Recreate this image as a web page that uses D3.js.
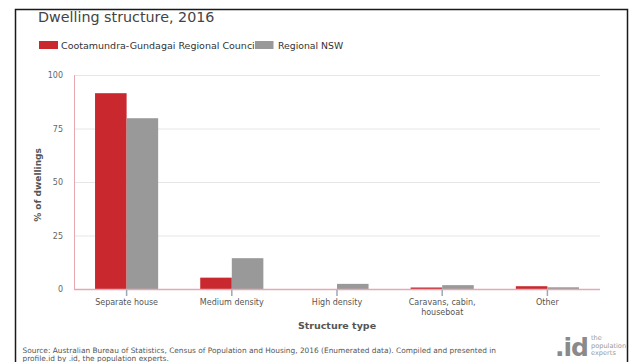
<!DOCTYPE html>
<html>
<head>
<meta charset="utf-8">
<script src="https://cdn.jsdelivr.net/npm/d3@7"></script>
<style>
  html, body { margin: 0; padding: 0; background: #fff; }
  svg { display: block; font-family: "DejaVu Sans", Verdana, sans-serif; }
</style>
</head>
<body>
<svg id="chart" width="632" height="362"></svg>
<script>
const categories = ["Separate house", "Medium density", "High density", "Caravans, cabin, houseboat", "Other"];
const categoryLines = [["Separate house"], ["Medium density"], ["High density"], ["Caravans, cabin,", "houseboat"], ["Other"]];
const seriesNames = ["Cootamundra-Gundagai Regional Council", "Regional NSW"];
const councilValues = [91.5, 5.3, 0.0, 0.7, 1.3];
const regionalValues = [79.8, 14.4, 2.4, 1.8, 0.8];
const yTicks = [0, 25, 50, 75, 100];
const colors = ["#c9282f", "#999999"];

const svg = d3.select("#chart");

// frame
svg.append("rect")
  .attr("x", 15.5).attr("y", 9.5)
  .attr("width", 612).attr("height", 400)
  .attr("fill", "none").attr("stroke", "#1a1a1a").attr("stroke-width", 1.5);

// title
svg.append("text")
  .attr("x", 38).attr("y", 22)
  .attr("font-size", 14.3).attr("fill", "#444")
  .text("Dwelling structure, 2016");

// legend
svg.append("rect").attr("x", 39).attr("y", 41).attr("width", 19).attr("height", 8).attr("fill", colors[0]);
svg.append("text").attr("x", 61).attr("y", 48.5).attr("font-size", 9.5).attr("fill", "#333").text(seriesNames[0]);
svg.append("rect").attr("x", 255).attr("y", 41).attr("width", 18.5).attr("height", 8).attr("fill", colors[1]);
svg.append("text").attr("x", 278).attr("y", 48.5).attr("font-size", 9.3).attr("fill", "#333").text(seriesNames[1]);

const pLeft = 74, pRight = 600, pTop = 75, pBottom = 289;

const x0 = d3.scaleBand().domain(categories).range([pLeft, pRight]).paddingInner(0.4).paddingOuter(0.2);
const x1 = d3.scaleBand().domain(seriesNames).range([0, x0.bandwidth()]);
const y = d3.scaleLinear().domain([0, 100]).range([pBottom, pTop]);

// gridlines
svg.append("g").selectAll("line").data(yTicks.filter(d => d > 0)).join("line")
  .attr("x1", pLeft).attr("x2", pRight)
  .attr("y1", d => y(d) + 0.5).attr("y2", d => y(d) + 0.5)
  .attr("stroke", "#e6e6e6").attr("stroke-width", 1);

// y axis labels
const yAxis = d3.axisLeft(y).tickValues(yTicks).tickSize(0).tickPadding(11);
const yg = svg.append("g").attr("transform", `translate(${pLeft},0)`).call(yAxis);
yg.select(".domain").remove();
yg.selectAll("text").attr("font-size", 8).attr("fill", "#666").attr("font-family", "DejaVu Sans, sans-serif");

// bars
const rows = categories.map((c, i) => ({ cat: c, vals: [councilValues[i], regionalValues[i]] }));
const groups = svg.append("g").selectAll("g").data(rows).join("g")
  .attr("transform", d => `translate(${x0(d.cat)},0)`);
groups.selectAll("rect").data(d => d.vals.map((v, j) => ({ v, s: seriesNames[j], j }))).join("rect")
  .attr("x", d => x1(d.s))
  .attr("width", x1.bandwidth())
  .attr("y", d => y(d.v))
  .attr("height", d => pBottom - y(d.v))
  .attr("fill", d => colors[d.j]);

// left axis line & baseline
svg.append("line").attr("x1", pLeft + 0.5).attr("x2", pLeft + 0.5).attr("y1", pTop).attr("y2", pBottom + 1)
  .attr("stroke", "#e8a9b0").attr("stroke-width", 1);
svg.append("line").attr("x1", pLeft).attr("x2", pRight).attr("y1", pBottom + 0.5).attr("y2", pBottom + 0.5)
  .attr("stroke", "#e3aab2").attr("stroke-width", 1.5);

// x ticks
const xAxis = d3.axisBottom(x0).tickSize(6).tickFormat("");
const xg = svg.append("g").attr("transform", `translate(0,${pBottom + 1})`).call(xAxis);
xg.select(".domain").remove();
xg.selectAll(".tick line").attr("stroke", "#9ea7b6").attr("stroke-width", 1.5);

// x labels
svg.append("g").selectAll("text").data(categories).join("text")
  .attr("x", d => x0(d) + x0.bandwidth() / 2)
  .attr("y", 304.5)
  .attr("text-anchor", "middle").attr("font-size", 8).attr("fill", "#555")
  .each(function(d, i) {
    d3.select(this).selectAll("tspan").data(categoryLines[i]).join("tspan")
      .attr("x", x0(d) + x0.bandwidth() / 2)
      .attr("dy", (t, k) => k === 0 ? 0 : 10)
      .text(t => t);
  });

// axis titles
svg.append("text").attr("x", (pLeft + pRight) / 2).attr("y", 329)
  .attr("text-anchor", "middle").attr("font-size", 9.5).attr("font-weight", "bold").attr("fill", "#555")
  .text("Structure type");
svg.append("text").attr("transform", `translate(41,${(pTop + pBottom) / 2 + 3}) rotate(-90)`)
  .attr("text-anchor", "middle").attr("font-size", 9).attr("font-weight", "bold").attr("fill", "#555")
  .text("% of dwellings");

// source
svg.append("text").attr("x", 22.5).attr("y", 352.5).attr("font-size", 7.4).attr("fill", "#555")
  .text("Source: Australian Bureau of Statistics, Census of Population and Housing, 2016 (Enumerated data). Compiled and presented in");
svg.append("text").attr("x", 22.5).attr("y", 361).attr("font-size", 7.4).attr("fill", "#555")
  .text("profile.id by .id, the population experts.");

// logo
svg.append("text").attr("x", 555).attr("y", 355.5).attr("font-size", 25).attr("font-weight", "bold")
  .attr("fill", "#8a8a8a").attr("letter-spacing", -1).text(".id");
const logoLines = ["the", "population", "experts"];
svg.append("g").selectAll("text").data(logoLines).join("text")
  .attr("x", 591).attr("y", (d, i) => 340 + i * 7.5)
  .attr("font-size", 6.6).attr("fill", "#999").text(d => d);
</script>
</body>
</html>
